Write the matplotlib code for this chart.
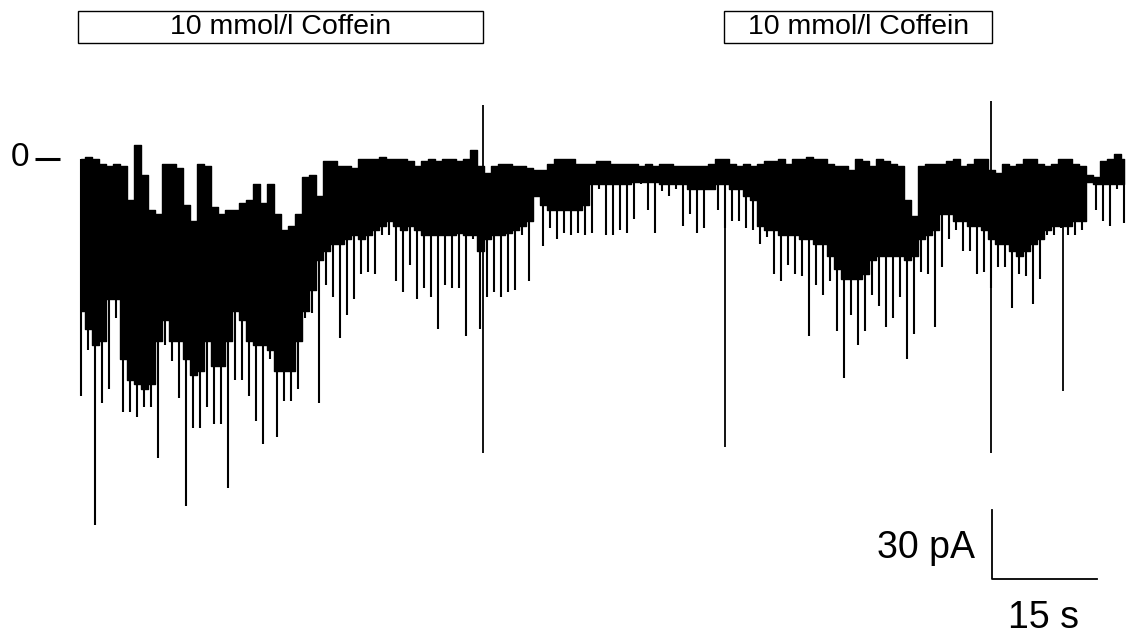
import matplotlib
matplotlib.use("Agg")
import matplotlib.pyplot as plt
from matplotlib.patches import Rectangle
import numpy as np

plt.rcParams['font.family'] = ['Liberation Sans', 'DejaVu Sans']

# whole-cell current, one bin per second (pA); upper edge, lower edge of the
# dense noise band, and deepest inward event in each bin
top = [0, 1, 0, -2, -3, -2, -3, -18, 6, -7, -22, -24, -2, -2, -4, -20, -27, -2, -3, -21,
       -24, -22, -22, -19, -18, -11, -19, -11, -24, -31, -29, -24, -8, -7, -16, -1, -1, -3, -3, -4,
       0, 0, 0, 1, 0, 0, 0, -1, -3, -1, 0, -1, 0, 0, -1, 0, 4, -3, -6, -3,
       -2, -2, -3, -3, -4, -5, -5, -2, 0, 0, 0, -2, -2, -2, -1, -1, -2, -2, -2, -2,
       -3, -2, -3, -2, -2, -3, -3, -3, -3, -3, -2, 0, 0, -2, -3, -2, -3, -2, -1, -1,
       0, -2, 0, 0, 1, 0, 0, -2, -3, -3, -5, 0, -1, -3, 0, -1, -2, -3, -18, -25,
       -3, -2, -2, -2, -1, 0, -3, -2, 0, 0, -5, -6, -2, -3, -2, 0, 0, -2, -3, -2,
       0, 0, -2, -3, -7, -8, -1, 0, 2, 0]
body = [-66, -74, -81, -79, -61, -61, -87, -96, -98, -100, -98, -79, -70, -79, -79, -87, -94, -92, -79, -90,
        -90, -79, -66, -70, -79, -81, -81, -83, -92, -92, -92, -79, -66, -57, -44, -40, -37, -37, -35, -33,
        -35, -33, -31, -29, -27, -29, -31, -29, -31, -33, -33, -33, -33, -33, -32, -33, -33, -40, -35, -33,
        -33, -32, -31, -29, -27, -16, -20, -22, -22, -22, -22, -22, -20, -11, -11, -11, -11, -11, -11, -10,
        -10, -10, -10, -11, -11, -11, -11, -13, -13, -13, -13, -11, -11, -13, -13, -16, -18, -29, -31, -31,
        -33, -33, -33, -35, -35, -37, -37, -42, -48, -52, -52, -52, -50, -44, -42, -42, -42, -42, -44, -42,
        -35, -33, -31, -24, -24, -27, -27, -29, -29, -31, -35, -37, -37, -40, -42, -40, -37, -35, -31, -29,
        -29, -29, -27, -27, -10, -11, -11, -11, -11, -11]
low = [-103, -83, -159, -106, -100, -69, -110, -110, -112, -108, -108, -130, -81, -88, -104, -151, -117, -117, -108, -115,
       -115, -143, -96, -96, -103, -114, -124, -87, -121, -105, -105, -100, -69, -67, -106, -55, -60, -78, -68, -61,
       -50, -49, -50, -33, -33, -53, -58, -46, -61, -56, -60, -74, -55, -56, -56, -77, -35, -74, -60, -58,
       -60, -58, -57, -33, -53, -16, -38, -30, -35, -32, -33, -32, -33, -32, -13, -33, -33, -31, -32, -26,
       -11, -22, -32, -14, -16, -13, -29, -24, -32, -30, -13, -22, -30, -27, -27, -30, -31, -37, -34, -50,
       -53, -46, -50, -51, -77, -55, -59, -53, -75, -95, -68, -81, -75, -59, -64, -73, -69, -60, -87, -76,
       -49, -50, -73, -47, -35, -31, -40, -40, -50, -49, -56, -47, -47, -65, -50, -51, -63, -52, -33, -33,
       -30, -33, -33, -31, -10, -22, -27, -29, -13, -28]

# single large transients: time (s), upper and lower extreme (pA)
artifact_t = [57.9, 92.4, 130.4, 140.7]
artifact_hi = [23.5, -9, 25, -29]
artifact_lo = [-128, -125, -128, -101]

# caffeine application periods (s)
coffein_start = [0.0, 92.3]
coffein_end = [57.9, 130.6]
coffein_label = "10 mmol/l Coffein"

# scale bar
bar_t, bar_len_t = 130.6, 15
bar_i, bar_len_i = -182.6, 30

t = np.arange(len(top)) + 0.5

fig = plt.figure(figsize=(11.3, 6.37), dpi=100)
ax = fig.add_axes([0, 0, 1, 1])
ax.set_xlim(-11.14, 150.29)
ax.set_ylim(-207.8, 69.1)
ax.axis('off')

ax.fill_between(t, body, top, step='mid', color='black', lw=1.0, edgecolor='black')
ax.vlines(t, top, low, color='black', lw=1.5)
ax.vlines(artifact_t, artifact_hi, artifact_lo, color='black', lw=1.3)

for s, e in zip(coffein_start, coffein_end):
    ax.add_patch(Rectangle((s, 50.4), e - s, 14.0, fill=False, ec='black', lw=1.0))
    ax.text((s + e) / 2, 57.2, coffein_label, ha='center', va='center', fontsize=20.5)

# zero current marker
ax.text(-8.3, 0.5, "0", ha='center', va='center', fontsize=24)
ax.plot([-6.14, -2.57], [0, 0], color='black', lw=2.2, solid_capstyle='butt')

ax.plot([bar_t, bar_t, bar_t + bar_len_t], [bar_i + bar_len_i, bar_i, bar_i],
        color='black', lw=1.3)
ax.text(bar_t - 2.5, bar_i + 13.5, "30 pA", ha='right', va='center', fontsize=27)
ax.text(bar_t + 7.3, bar_i - 17, "15 s", ha='center', va='center', fontsize=27)

fig.savefig("out.png", dpi=100)
